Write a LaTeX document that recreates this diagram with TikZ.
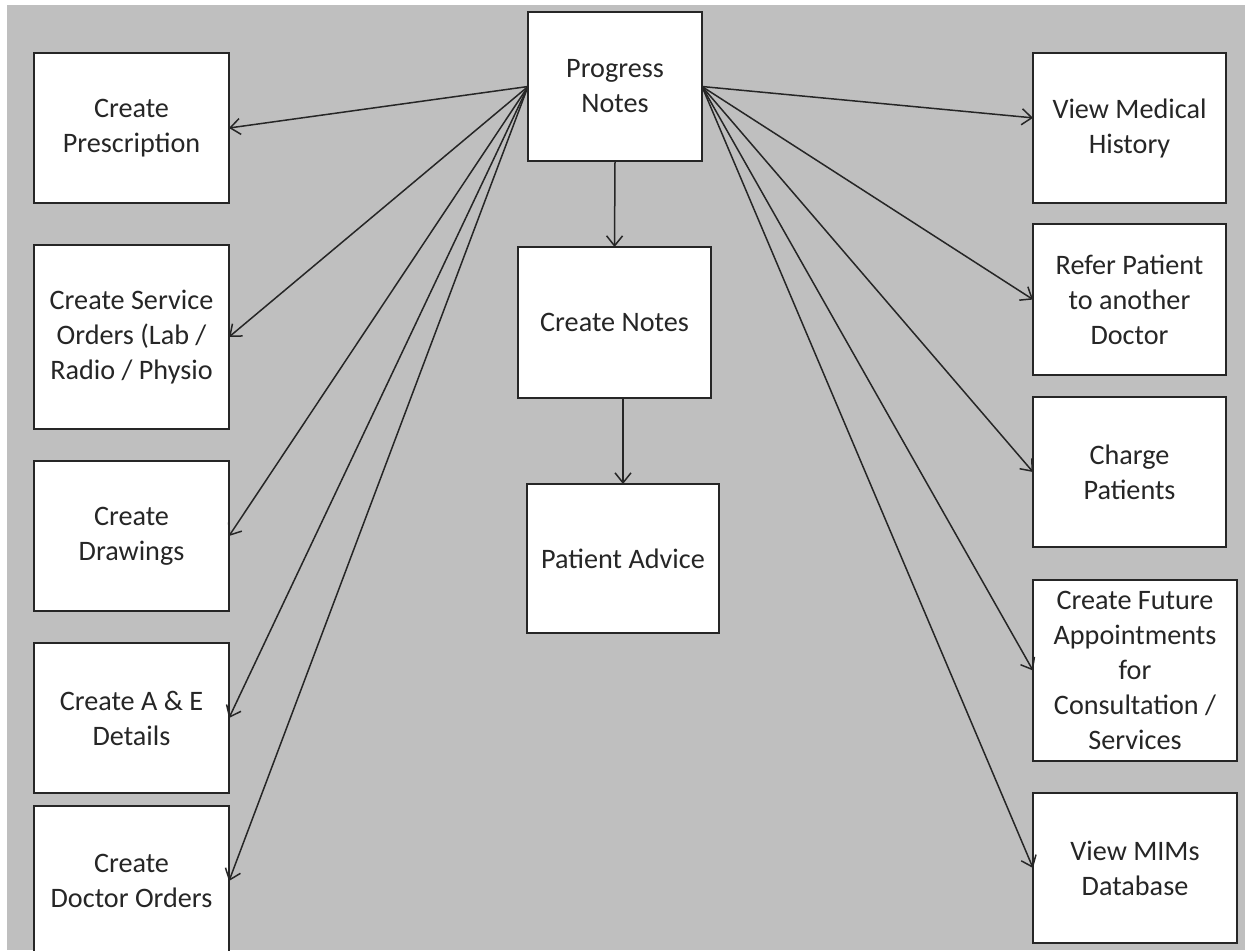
\documentclass[tikz,border=0pt]{standalone}
\usepackage{fontspec}
\setmainfont{Carlito}
\usepackage{tikz}
\usetikzlibrary{arrows.meta}

\begin{document}
\begin{tikzpicture}[x=0.5pt,y=-0.5pt,
        >={Straight Barb[length=5pt,width=8pt]},
        box/.style={draw=black!85,fill=white,line width=0.9pt,outer sep=0pt,inner sep=0pt,
                align=center,text=black!85,minimum width=97.5pt,minimum height=75pt,
                font=\fontsize{14.1}{17.5}\selectfont},
        link/.style={->,line width=0.75pt,black!85}]
        \useasboundingbox (0,0) rectangle (1245,950);
        \clip (0,0) rectangle (1245,950);
        \fill[gray!50] (7,5) rectangle (1245,950);

        \node[box,minimum width=87pt,minimum height=74.5pt] (pn) at (615,86.5) {Progress\\Notes};
        \node[box,minimum width=96.5pt,minimum height=75.5pt] (cn) at (614.5,322.5) {Create Notes};
        \node[box,minimum width=96pt,minimum height=74.5pt] (pa) at (623,558.5) {Patient Advice};

        \node[box] (presc) at (131.5,128) {Create\\Prescription};
        \node[box,minimum height=92pt] (serv) at (131.5,337) {Create Service\\Orders (Lab /\\Radio / Physio};
        \node[box] (drw) at (131.5,536) {Create\\Drawings};
        \node[box] (ae) at (131.5,718) {Create A \& E\\Details};
        \node[box] (docord) at (131.5,881) {Create\\Doctor Orders};

        \node[box,minimum width=96.5pt] (hist) at (1129.5,128) {View Medical\\History};
        \node[box,minimum width=96.5pt,minimum height=75.5pt] (refer) at (1129.5,299.5) {Refer Patient\\to another\\Doctor};
        \node[box,minimum width=96.5pt] (charge) at (1129.5,472) {Charge\\Patients};
        \node[box,minimum width=102pt,minimum height=90.5pt] (future) at (1135,670.5) {Create Future\\Appointments\\for\\Consultation /\\Services};
        \node[box,minimum width=102pt] (mims) at (1135,868) {View MIMs\\Database};

        \draw[link] (pn.south) -- (cn.north);
        \draw[link] (cn.south -| pa.north) -- (pa.north);

        \draw[link] (pn.west) -- (presc.east);
        \draw[link] (pn.west) -- (serv.east);
        \draw[link] (pn.west) -- (drw.east);
        \draw[link] (pn.west) -- (ae.east);
        \draw[link] (pn.west) -- (docord.east);

        \draw[link] (pn.east) -- (hist.174);
        \draw[link] (pn.east) -- (refer.west);
        \draw[link] (pn.east) -- (charge.west);
        \draw[link] (pn.east) -- (future.west);
        \draw[link] (pn.east) -- (mims.west);
\end{tikzpicture}
\end{document}
